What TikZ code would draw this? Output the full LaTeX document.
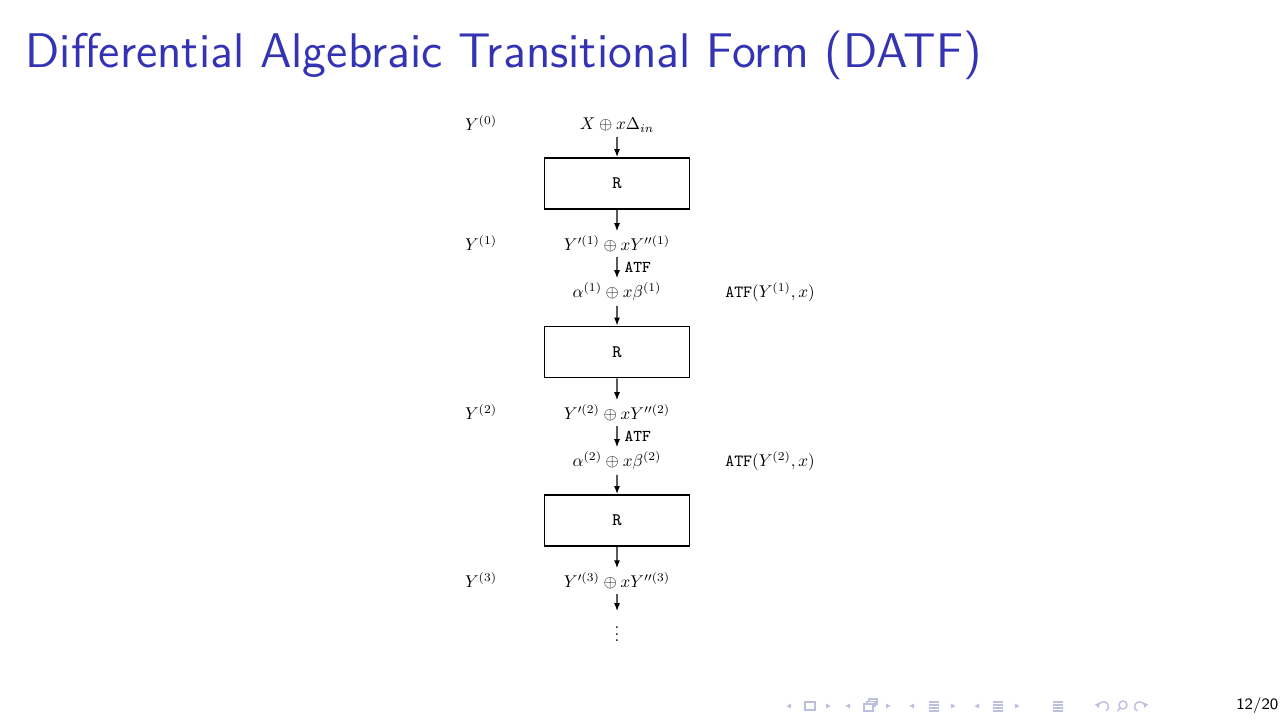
\documentclass[tikz,border=0pt]{standalone}
\usepackage{amsmath}
\usepackage{xcolor}
\usetikzlibrary{arrows.meta}

\definecolor{titleblue}{RGB}{51,51,179}
\definecolor{navgray}{RGB}{190,190,222}

\tikzset{
	lbl/.style={anchor=base, inner sep=2.5pt, scale=0.485},
	rbox/.style={draw, line width=0.5pt, minimum width=1.45cm, minimum height=0.51cm, inner sep=0pt, font=\fontsize{5}{6}\selectfont\ttfamily},
	flow/.style={-{Latex[length=0.8mm,width=0.6mm]}, line width=0.35pt},
	atf/.style={right, inner sep=2pt, font=\fontsize{4.7}{6}\selectfont\ttfamily},
}

\begin{document}
\begin{tikzpicture}
			\useasboundingbox (0,0) rectangle (12.8,7.2);
			% frame title
			\node[anchor=base west, inner sep=0pt, text=titleblue, font=\fontsize{13.85}{17}\selectfont\sffamily] (title) at (0.25,6.52)
			{Differential Algebraic Transitional Form (DATF)};

			% rows of the diagram
			\node[lbl] (Y0) at (4.81,5.89) {$Y^{(0)}$};
			\node[lbl] (in0) at (6.17,5.90) {$X \oplus x\Delta_{in}$};
			\node[rbox] (R1) at (6.17,5.365) {R};
			\node[lbl] (Y1) at (4.81,4.69) {$Y^{(1)}$};
			\node[lbl] (Yp1) at (6.17,4.69) {$Y'^{(1)} \oplus xY''^{(1)}$};
			\node[lbl] (al1) at (6.17,4.22) {$\alpha^{(1)} \oplus x\beta^{(1)}$};
			\node[lbl] (atf1) at (7.70,4.22) {$\mathtt{ATF}(Y^{(1)}, x)$};
			\node[rbox] (R2) at (6.17,3.68) {R};
			\node[lbl] (Y2) at (4.81,3.00) {$Y^{(2)}$};
			\node[lbl] (Yp2) at (6.17,3.00) {$Y'^{(2)} \oplus xY''^{(2)}$};
			\node[lbl] (al2) at (6.17,2.53) {$\alpha^{(2)} \oplus x\beta^{(2)}$};
			\node[lbl] (atf2) at (7.70,2.53) {$\mathtt{ATF}(Y^{(2)}, x)$};
			\node[rbox] (R3) at (6.17,1.995) {R};
			\node[lbl] (Y3) at (4.81,1.32) {$Y^{(3)}$};
			\node[lbl] (Yp3) at (6.17,1.32) {$Y'^{(3)} \oplus xY''^{(3)}$};
			\node[inner sep=2.75pt, scale=0.485] (dots) at (6.17,0.91) {$\vdots$};

			% connectors
			\draw[flow] (in0) -- (R1);
			\draw[flow] (R1) -- (Yp1);
			\draw[flow] (Yp1) -- node[atf] {ATF} (al1);
			\draw[flow] (al1) -- (R2);
			\draw[flow] (R2) -- (Yp2);
			\draw[flow] (Yp2) -- node[atf] {ATF} (al2);
			\draw[flow] (al2) -- (R3);
			\draw[flow] (R3) -- (Yp3);
			\draw[flow] (Yp3) -- (dots);

			% navigation symbols
			\foreach \x in {7.89,8.48,9.12,9.77}
				\fill[navgray] (\x-0.025,0.14) -- (\x+0.02,0.165) -- (\x+0.02,0.115) -- cycle;
			\foreach \x in {8.28,8.88,9.53,10.17}
				\fill[navgray] (\x+0.025,0.14) -- (\x-0.02,0.165) -- (\x-0.02,0.115) -- cycle;
			\draw[navgray, line width=0.4pt] (8.05,0.10) rectangle (8.15,0.18);
			\draw[navgray, line width=0.4pt, fill=white] (8.69,0.16) rectangle (8.77,0.21);
			\draw[navgray, line width=0.4pt, fill=white] (8.67,0.135) rectangle (8.75,0.185);
			\draw[navgray, line width=0.4pt, fill=white] (8.64,0.09) rectangle (8.73,0.16);
			\foreach \x in {9.34,9.98,10.58}
				\foreach \y in {0.09,0.12,0.15,0.18}
					\draw[navgray, line width=0.4pt] (\x-0.05,\y) -- (\x+0.05,\y);
			\draw[navgray, line width=0.4pt, -{Latex[length=0.5mm,width=0.5mm]}] (11.06,0.09) arc (-60:200:0.05);
			\draw[navgray, line width=0.4pt] (11.23,0.15) circle (0.04) (11.20,0.12) -- (11.17,0.09);
			\draw[navgray, line width=0.4pt, -{Latex[length=0.5mm,width=0.5mm]}] (11.37,0.09) arc (240:-20:0.05);

			% page number
			\node[anchor=base east, inner sep=0pt, font=\fontsize{4.5}{6}\selectfont\sffamily] (page) at (12.79,0.10) {12/20};
		\end{tikzpicture}
\end{document}
